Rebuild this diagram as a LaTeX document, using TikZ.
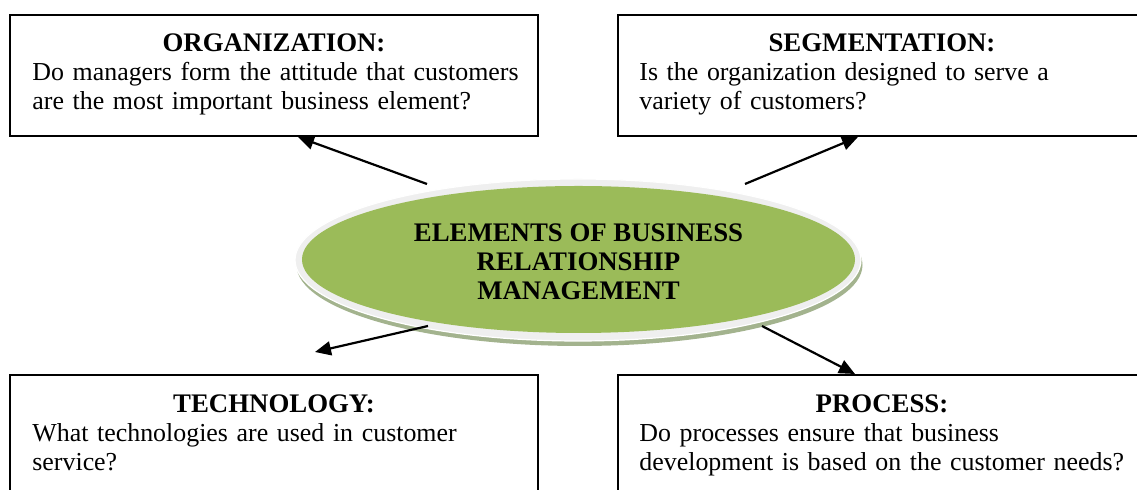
\documentclass[tikz,border=0pt]{standalone}
\usepackage{fontspec}
\setmainfont{Liberation Serif}
\usetikzlibrary{arrows.meta,shapes.geometric,calc}
\definecolor{elgreen}{HTML}{9BBB59}
\definecolor{elrim}{HTML}{EFEFEF}
\definecolor{elshadow}{HTML}{A3B38E}
\tikzset{
  qbox/.style={draw=black, line width=1pt, rectangle, inner sep=0pt,
    minimum width=264pt, minimum height=60.5pt},
  qtitle/.style={anchor=base, inner sep=0pt, font=\fontsize{13.4pt}{14.5pt}\selectfont\bfseries},
  qbody/.style={anchor=base west, inner sep=0pt, text width=250pt, align=left,
    font=\fontsize{12.95pt}{14.5pt}\selectfont},
  elshape/.style={ellipse, inner sep=0pt},
  arr/.style={line width=1.1pt, -{Triangle[length=8pt,width=7pt]}},
}
\begin{document}
\begin{tikzpicture}[x=0.5pt,y=-0.5pt]
\useasboundingbox (0,0) rectangle (1137,490);
\clip (0,0) rectangle (1137,490);
\fill[white] (0,0) rectangle (1137,490);

% boxes
\node[qbox] (org)  at (274,75.5)  {};
\node[qbox] (seg)  at (882,75.5)  {};
\node[qbox] (tech) at (274,435.5) {};
\node[qbox] (proc) at (882,435.5) {};

% box texts
\node[qtitle] (orgT)  at (274,52) {ORGANIZATION:};
\node[qbody]  (orgB)  at (32,81)  {Do managers form the attitude that customers\\are the most important business element?};
\node[qtitle] (segT)  at (882,52) {SEGMENTATION:};
\node[qbody]  (segB)  at (639,81) {Is the organization designed to serve a\\variety of customers?};
\node[qtitle] (techT) at (274,413) {TECHNOLOGY:};
\node[qbody]  (techB) at (32,442) {What technologies are used in customer\\service?};
\node[qtitle] (procT) at (882,413) {PROCESS:};
\node[qbody]  (procB) at (639,442) {Do processes ensure that business\\development is based on the customer needs?};

% central ellipse
\node[elshape, fill=elshadow, minimum width=283pt, minimum height=81pt] (shad) at (579.5,265) {};
\node[elshape, fill=elrim, draw=white, line width=0.6pt, minimum width=283pt, minimum height=81pt] (rim) at (578,260) {};
\node[elshape, fill=elgreen, minimum width=276.5pt, minimum height=73.5pt] (core) at (578.5,259.5) {};
\node[anchor=base, inner sep=0pt, align=center,
  font=\fontsize{13.4pt}{14.5pt}\selectfont\bfseries] (title) at (578.5,300)
  {ELEMENTS OF BUSINESS\\RELATIONSHIP\\MANAGEMENT};

% connector ends
\coordinate (s1) at (427,184);
\coordinate (s2) at (745,184);
\coordinate (s3) at (428,326);
\coordinate (s4) at (762,326);
\coordinate (t1) at ($(org.south)+(24,0)$);
\coordinate (t2) at ($(seg.south)+(-24,0)$);
\coordinate (t3) at (315,352);
\coordinate (t4) at ($(proc.north)+(-27,0)$);

\draw[arr] (s1) -- (t1);
\draw[arr] (s2) -- (t2);
\draw[arr] (s3) -- (t3);
\draw[arr] (s4) -- (t4);
\end{tikzpicture}
\end{document}
